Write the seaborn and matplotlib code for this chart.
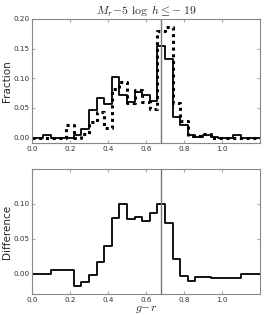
import numpy as np
import pandas as pd
import matplotlib
matplotlib.use("Agg")
import matplotlib.pyplot as plt
import seaborn as sns

# bin centres (width 0.04) in g-r
GR = [0.00, 0.04, 0.08, 0.12, 0.16, 0.20, 0.24, 0.28, 0.32, 0.36, 0.40,
      0.44, 0.48, 0.52, 0.56, 0.60, 0.64, 0.68, 0.72, 0.76, 0.80, 0.84,
      0.88, 0.92, 0.96, 1.00, 1.04, 1.08, 1.12, 1.16, 1.20]

FRAC_SOLID = [0.0, 0.0, 0.005, 0.0, 0.0, 0.0, 0.005, 0.015, 0.046, 0.066, 0.056,
              0.102, 0.0715, 0.060, 0.0776, 0.0715, 0.061, 0.154, 0.133, 0.035, 0.021, 0.004,
              0.001, 0.005, 0.001, 0.0, 0.0, 0.005, 0.0, 0.0, 0.0]

FRAC_DASHED = [0.0, 0.0, 0.0, 0.0, 0.0, 0.022, 0.0, 0.006, 0.027, 0.044, 0.016,
               0.082, 0.093, 0.059, 0.081, 0.060, 0.049, 0.180, 0.186, 0.059, 0.028, 0.002,
               0.002, 0.006, 0.0, 0.0, 0.0, 0.0, 0.0, 0.0, 0.0]

DIFF = [0.0, 0.0, 0.0, 0.005, 0.005, 0.005, -0.017, -0.012, -0.0015, 0.017, 0.040,
        0.080, 0.100, 0.079, 0.081, 0.075, 0.087, 0.100, 0.073, 0.021, -0.004, -0.0105,
        -0.005, -0.005, -0.006, -0.006, -0.006, -0.006, 0.0, 0.0, 0.0]

GR_CUT = 0.68

sns.set_style("ticks")
plt.rcParams.update({
    "font.family": "DejaVu Sans",
    "mathtext.fontset": "cm",
    "axes.edgecolor": "#888888",
    "axes.linewidth": 0.8,
    "xtick.direction": "in",
    "ytick.direction": "in",
    "xtick.top": True,
    "ytick.right": True,
    "xtick.color": "#aaaaaa",
    "ytick.color": "#aaaaaa",
    "xtick.labelcolor": "#333333",
    "ytick.labelcolor": "#333333",
    "xtick.major.size": 2.5,
    "ytick.major.size": 2.5,
    "xtick.major.pad": 2.5,
    "ytick.major.pad": 2.0,
    "xtick.labelsize": 5.2,
    "ytick.labelsize": 5.2,
})

df = pd.DataFrame({"gr": GR, "solid": FRAC_SOLID, "dashed": FRAC_DASHED, "diff": DIFF})

fig = plt.figure(figsize=(2.64, 3.15), dpi=100)
ax1 = fig.add_axes([0.121, 0.546, 0.864, 0.394])
ax2 = fig.add_axes([0.121, 0.067, 0.864, 0.396])

# Top panel - fraction histograms
sns.lineplot(data=df, x="gr", y="solid", ax=ax1, drawstyle="steps-mid",
             color="black", lw=1.3, sort=False)
sns.lineplot(data=df, x="gr", y="dashed", ax=ax1, drawstyle="steps-mid",
             color="black", lw=2.2, linestyle=(0, (1, 1.2)), sort=False)
ax1.axvline(GR_CUT, color="#777777", lw=1.0)
ax1.set_xlim(0, 1.2)
ax1.set_ylim(-0.009, 0.20)
ax1.set_xticks([0.0, 0.2, 0.4, 0.6, 0.8, 1.0])
ax1.set_yticks([0.0, 0.05, 0.10, 0.15, 0.20])
ax1.xaxis.set_major_formatter(plt.FormatStrFormatter("%.1f"))
ax1.yaxis.set_major_formatter(plt.FormatStrFormatter("%.2f"))
ax1.set_xlabel("")
ax1.set_ylabel("Fraction", fontsize=7.5, labelpad=1)
ax1.set_title(r"$M_r\!-\!5\ \log\ h \leq\!-19$", fontsize=8.5, pad=3)

# Bottom panel - difference
sns.lineplot(data=df, x="gr", y="diff", ax=ax2, drawstyle="steps-mid",
             color="black", lw=1.3, sort=False)
ax2.axvline(GR_CUT, color="#777777", lw=1.0)
ax2.set_xlim(0, 1.2)
ax2.set_ylim(-0.029, 0.15)
ax2.set_xticks([0.0, 0.2, 0.4, 0.6, 0.8, 1.0])
ax2.set_yticks([0.0, 0.05, 0.10])
ax2.xaxis.set_major_formatter(plt.FormatStrFormatter("%.1f"))
ax2.yaxis.set_major_formatter(plt.FormatStrFormatter("%.2f"))
ax2.set_xlabel(r"$g\!-\!r$", fontsize=8.5, labelpad=-1)
ax2.set_ylabel("Difference", fontsize=7.5, labelpad=1)

for ax in (ax1, ax2):
    for s in ax.spines.values():
        s.set_visible(True)

fig.savefig("out.png", dpi=100)
